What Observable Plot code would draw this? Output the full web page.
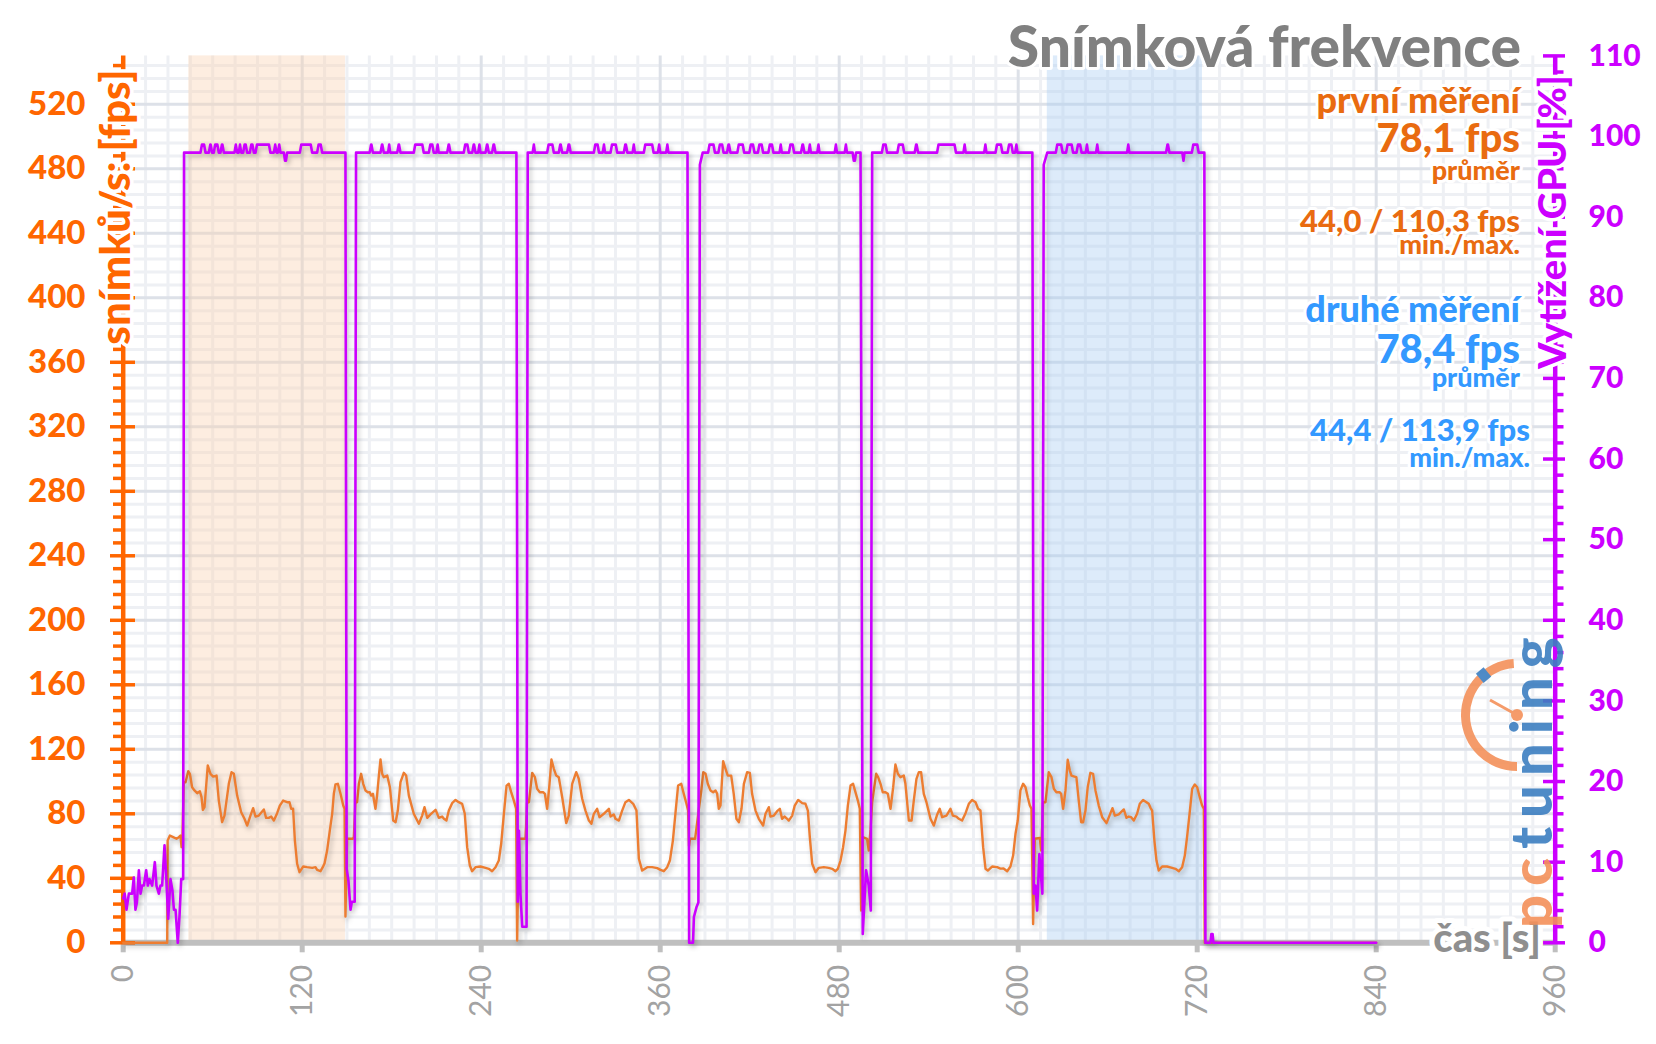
<!DOCTYPE html>
<html>
<head>
<meta charset="utf-8">
<script src="https://cdn.jsdelivr.net/npm/d3@7"></script>
<script src="https://cdn.jsdelivr.net/npm/@observablehq/plot@0.6"></script>
<style>
  html, body { margin: 0; padding: 0; background: #ffffff; overflow: hidden; }
  #chart svg { display: block; }
</style>
</head>
<body>
<div id="chart"></div>
<script>
// ---------------- DATA ----------------
// axis ticks
const xMajorTicks = [0, 120, 240, 360, 480, 600, 720, 840, 960];
const xMinorGrid = [15, 30, 45, 60, 75, 90, 105, 135, 150, 165, 180, 195, 210, 225, 255, 270, 285, 300, 315, 330, 345, 375, 390, 405, 420, 435, 450, 465, 495, 510, 525, 540, 555, 570, 585, 615, 630, 645, 660, 675, 690, 705, 735, 750, 765, 780, 795, 810, 825, 855, 870, 885, 900, 915, 930, 945];
const fpsMajorTicks = [0, 40, 80, 120, 160, 200, 240, 280, 320, 360, 400, 440, 480, 520];
const fpsMinorTicks = [8, 16, 24, 32, 48, 56, 64, 72, 88, 96, 104, 112, 128, 136, 144, 152, 168, 176, 184, 192, 208, 216, 224, 232, 248, 256, 264, 272, 288, 296, 304, 312, 328, 336, 344, 352, 368, 376, 384, 392, 408, 416, 424, 432, 448, 456, 464, 472, 488, 496, 504, 512, 528, 536, 544];
const gpuMajorTicks = [0, 10, 20, 30, 40, 50, 60, 70, 80, 90, 100, 110];
const gpuMinorTicks = [2, 4, 6, 8, 12, 14, 16, 18, 22, 24, 26, 28, 32, 34, 36, 38, 42, 44, 46, 48, 52, 54, 56, 58, 62, 64, 66, 68, 72, 74, 76, 78, 82, 84, 86, 88, 92, 94, 96, 98, 102, 104, 106, 108];

// highlighted measurement windows [start s, end s]
const bandStarts = [44, 619.5];
const bandEnds = [149, 723.5];
const bandColors = ["#fad2b2", "#aacdf2"];

// texts
const titleText = "Snímková frekvence";
const runNames = ["první měření", "druhé měření"];
const avgTexts = ["78,1 fps", "78,4 fps"];
const avgNote = "průměr";
const minMaxTexts = ["44,0 / 110,3 fps", "44,4 / 113,9 fps"];
const minMaxNote = "min./max.";
const yLeftLabel = "snímků/s: [fps]";
const yRightLabel = "Vytížení GPU [%]";
const xLabel = "čas [s]";

// frame rate [time s, fps]
const fpsWarmup = [[0,0],[29.5,0],[29.8,63.4],[31.3,66.5],[33.5,65.5],[35.7,64.5],[37.3,65.5],[38.4,66.5],[39.1,59.3],[39.7,65],[40.6,99.6]];
const fpsRun1 = [[41.8,99.6],[43.6,106.4],[44.7,104.8],[46.2,96.5],[47.8,94.5],[49.6,92.8],[51.4,94],[52.5,90.3],[53.4,82.4],[54.5,84.1],[56.7,110],[58.5,104.8],[60.3,103.1],[62.6,103.7],[64.1,88.2],[66.3,74.8],[67.9,78.9],[70.8,98.6],[72.6,105.8],[74.2,104.8],[76.4,91.3],[79.1,81],[81.3,76.9],[83.1,72.7],[85.3,78.9],[87.1,83.5],[88.7,78.3],[90.9,78.9],[94.3,82.7],[95.8,77.5],[97.6,77.5],[99.2,78.3],[101,75.8],[103.2,80.4],[105,85.1],[107.2,88.2],[109.9,87.2],[111.5,87.2],[112.6,83.1],[113.9,83.1],[115.1,63.4],[116.6,49],[118.2,43.8],[120.6,47.3],[123.3,46.9],[126.7,46.5],[128.9,46.9],[130,45.2],[132.3,44.4],[133.8,46.9],[135,49.4],[136.7,57.2],[138.5,69.6],[140.1,80],[141.2,92.4],[142.3,98.2],[143.9,98.6],[145.7,92.4],[147.5,85.1],[148.4,83.1],[149,16.3],[150.1,64.5],[154,64.5],[154.6,65.5],[155.7,87.2]];
const fpsRun2 = [[156.8,87.2],[158,98.6],[159.5,104.8],[160.9,98.6],[162.4,94.5],[164,93.4],[165.3,93.4],[166.2,91.3],[167.4,92.4],[169.1,83.1],[170.2,91.3],[171.4,103.7],[172.5,113.7],[173.6,104.8],[174.7,102.7],[177,103.7],[178.8,96.5],[181,75.8],[182.6,74.8],[184.1,82],[185.9,99.6],[188.1,105.4],[189.7,103.7],[191.5,91.3],[194.8,80],[198.2,73.8],[200.4,78.9],[202,84.1],[203.8,77.5],[206,79.6],[209.4,82.5],[211.6,77.5],[213.8,78.3],[215,76.9],[216.7,75.8],[218.3,82],[220.5,86.6],[222.8,88.6],[225,87.2],[227.2,86.2],[229,80],[230.6,59.3],[232.4,47.9],[233.9,44.4],[236.2,46.9],[239.5,47.3],[242.9,46.5],[245.1,45.9],[247.3,44.4],[249.6,46.9],[251.8,51],[253.4,61.4],[255.2,80],[257,97.5],[258.5,98.6],[260.1,93.4],[261.9,88.2],[263.4,83.1],[264.1,1.4],[265.2,64.5],[269.7,64.5],[270.8,87.2]];
const fpsRun3 = [[272,87.2],[274.2,105.4],[276,102.7],[277.5,95.5],[279.3,93.4],[281.5,93.4],[282.7,92.4],[284.2,83.1],[285.8,98.6],[287.1,113.7],[288.7,107.9],[290.3,103.7],[292,102.7],[294.3,90.3],[297,74.2],[298.7,78.9],[301,98.6],[303.7,105.8],[305.4,101.7],[307.7,89.3],[309.9,82],[312.2,75.8],[313.9,73.8],[315.5,80],[317.7,83.1],[319.3,77.9],[322.2,80],[325.6,83.1],[326.7,78.3],[328.9,79.6],[330,76.9],[332.3,75.8],[334.5,82],[336.7,87.2],[339,88.6],[341.9,86.2],[344.1,82],[345.7,52.1],[347.9,44.8],[351.3,46.9],[354.6,46.9],[358,46.3],[360.2,45.2],[362.4,44.4],[364.7,46.9],[366.5,51],[368.5,63.4],[370.3,81],[372,97.5],[374.1,98.6],[375.8,92.4],[377.6,86.2],[378.7,82],[379.3,60],[380,64.5],[383.4,64.5]];
const fpsRun4 = [[385.5,80],[387.5,94],[388.9,105.8],[390.4,104.8],[391.9,98.6],[393.7,94.5],[395.5,93.4],[397.1,94.5],[398.2,92.4],[399.3,83.1],[400.4,85.1],[402.2,112.6],[403.8,107.9],[405.3,103.7],[407.6,103.7],[409.3,92.4],[411.1,76.9],[412.7,74.8],[414.5,83.1],[416.1,98.6],[418.3,105.8],[420.1,105.4],[421.6,92.4],[423.9,82],[426.1,76.9],[429,72.7],[430.6,80],[432.8,84.1],[433.9,78.3],[436.2,78.9],[438.4,81.6],[440.2,83.1],[441.7,76.9],[443.3,78.3],[445.1,76.9],[446.2,75.8],[448.5,78.9],[450.2,85.1],[452.5,88.6],[455.2,86.6],[457.4,86.2],[459,82],[460.3,65.5],[461.9,49],[464.1,43.8],[466.3,46.5],[469.7,46.9],[473,46.5],[475.3,45.9],[477.5,44.4],[479.1,45.9],[480.9,51],[482.6,59.3],[484.2,69.6],[485.8,85.1],[487.6,97.5],[489.3,98.6],[490.9,93.4],[492.5,88.2],[493.8,83.1],[494.7,20],[495.8,65.5],[498.7,64.5],[499.8,57.2],[501,70],[502.1,87.2]];
const fpsRun5 = [[503.2,94.5],[504.8,104.8],[506.1,102.7],[507.7,98.6],[509.2,93.4],[511,93.4],[512.6,92.4],[514.4,83.1],[516.2,96.5],[517.7,110.6],[519.3,104.8],[521.1,102.7],[523.3,103.7],[524.4,98.6],[526.7,75.8],[528.5,75.8],[530,88.2],[531.8,101.7],[533.4,105.8],[534.9,105.8],[536.7,92.4],[538.5,87.2],[541.2,76.9],[543.4,72.7],[545.7,79.6],[547.4,83.1],[549,77.9],[551.9,78.9],[554.6,83.1],[556.2,78.9],[558.6,78.3],[560.2,76.9],[562.4,75.8],[564.7,80.4],[566.9,86.2],[569.1,88.6],[571.4,87.2],[573.1,83.1],[574.7,82],[576.5,59.3],[578.1,45.9],[579.6,44.8],[582.5,47.3],[585.9,46.9],[588.1,46],[590.2,46.1],[592.6,44.4],[594.8,47.3],[596.6,54.1],[598.2,67.6],[599.7,75.8],[601.5,94.5],[603.3,98.6],[604.9,96.5],[606.4,90.3],[607.8,85.1],[608.9,83.1],[610,11.7],[611.1,64.5],[614.5,65],[615.4,57.2],[616.7,87.2]];
const fpsRun6 = [[618.3,87.2],[620.5,105.8],[622.3,102.7],[623.9,95.5],[625.6,93.4],[627.7,93.4],[628.8,92.4],[630.1,83.1],[631.7,94.5],[633.2,113.5],[634.6,106.8],[635.7,103.7],[637.7,103.1],[639,102.7],[640.6,88.2],[642.2,74.8],[643.5,74.8],[645.1,82],[646.6,96.5],[648.4,105.4],[650.2,104.8],[651.8,94.5],[654,85.1],[656.3,77.9],[659.2,74.2],[661.2,78.9],[663.2,83.5],[664.8,78.9],[667.4,79.6],[670.8,82.7],[672.6,77.5],[674.1,78.3],[675.7,77.9],[677.5,75.8],[679.7,80],[681.5,86.2],[683.7,88.6],[686,87.2],[687.5,86.2],[688.7,83.7],[689.8,82],[691.3,63.4],[692.7,51],[694.2,44.8],[696.5,47.3],[699.8,47.3],[703.2,46.5],[705.4,45.9],[707.7,44.4],[709.9,46.9],[711.7,54.1],[713.2,65.5],[715,81],[716.6,95.5],[718.4,98.2],[720,96.5],[721.7,90.3],[723.3,85.1],[724.4,83.1],[725.1,0]];
const fpsIdle = [[840,0]];

// GPU load [time s, %]
const gpuWarmup = [[0,5.5],[1,6.1],[2.2,4.1],[3.8,6.1],[6,6.1],[7.1,8.1],[8.2,4.1],[9.2,5],[10.5,9],[11.6,6.1],[12.7,7.1],[13.9,7.1],[15.4,9],[16.5,7.1],[17.6,7.9],[19.4,7.1],[21.2,10],[22.3,7.1],[23.9,6.1],[25,7.1],[26.1,7.1],[27.7,12.1],[29,7.5],[30.2,3],[31.7,7.9],[33,6.5],[34,4.1],[35.1,4.1],[36.6,0],[37.8,3.5],[38.9,7.9],[40.2,7.9]];
const gpuRun1 = [[40.8,98],[51.8,98],[52.8,99],[54.2,99],[55.2,98],[57.4,98],[58.4,99],[58.6,99],[59.6,98],[60.7,98],[61.7,99],[63.1,99],[64.1,98],[65.2,98],[66.2,99],[66.5,99],[67.5,98],[74.6,98],[75.5,99],[76.4,98],[77.5,98],[78.3,99],[79.1,98],[80.4,98],[81.4,99],[82.1,99],[83.1,98],[84.9,98],[85.9,99],[86.6,99],[87.6,98],[88.7,98],[89.7,99],[97.7,99],[98.7,98],[101,98],[101.9,99],[102.8,98],[103.7,98],[104.6,99],[105.4,98],[107.7,98],[108.5,97],[109.1,97],[109.9,98],[118.4,98],[119.4,99],[125.7,99],[126.7,98],[130,98],[131,99],[132.4,99],[133.4,98],[149,98],[149.8,9.2],[151,7.7],[152.4,4.1],[153.3,5.1],[155.2,5.1],[156.1,98]];
const gpuRun2 = [[165.2,98],[166.2,99],[166.4,99],[167.4,98],[172.5,98],[173.5,99],[173.7,99],[174.7,98],[177.6,98],[178.3,99],[179,98],[183.7,98],[184.7,99],[184.9,99],[185.9,98],[194.8,98],[195.8,99],[200.5,99],[201.5,98],[204.9,98],[205.9,99],[207.2,99],[208.2,98],[210,98],[210.8,99],[211.5,98],[217.2,98],[218.2,99],[218.4,99],[219.4,98],[228.3,98],[229.3,99],[230.7,99],[231.7,98],[234,98],[235,99],[235.2,99],[236.2,98],[238,98],[238.8,99],[239.5,98],[242.9,98],[243.9,99],[244.1,99],[245.1,98],[247.3,98],[248.3,99],[248.6,99],[249.6,98],[263.6,98],[264.5,5.1],[265.3,13.9],[266.3,6.1],[267.5,2],[270.4,2],[271.2,98]];
const gpuRun3 = [[274.5,98],[275.3,99],[276,98],[284.2,98],[285.2,99],[287.7,99],[288.7,98],[292,98],[293,99],[293.3,99],[294.3,98],[297.6,98],[298.6,99],[299,99],[300,98],[315.5,98],[316.5,99],[318,99],[319,98],[321.5,98],[322.3,99],[323,98],[326.7,98],[327.7,99],[330.2,99],[331.2,98],[335.6,98],[336.6,99],[337,99],[338,98],[341.5,98],[342.3,99],[343,98],[349,98],[350,99],[354.6,99],[355.6,98],[358.5,98],[359.3,99],[360,98],[364,98],[364.8,99],[365.5,98],[378.3,98],[379.4,0],[382,0],[382.6,3.2],[384.3,4.4],[385.6,5],[386.6,96.5],[388.5,98]];
const gpuRun4 = [[392.1,98],[393.1,99],[395.7,99],[396.7,98],[399,98],[400,99],[401.5,99],[402.5,98],[404.8,98],[405.8,99],[406.1,99],[407.1,98],[411.7,98],[412.7,99],[415.3,99],[416.3,98],[419.8,98],[420.8,99],[422.2,99],[423.2,98],[425.5,98],[426.5,99],[428,99],[429,98],[432.5,98],[433.5,99],[434.9,99],[435.9,98],[440,98],[440.8,99],[441.5,98],[446.3,98],[447.3,99],[448.8,99],[449.8,98],[454.4,98],[455.4,99],[455.7,99],[456.7,98],[459.5,98],[460.3,99],[461,98],[465.3,98],[466.1,99],[466.8,98],[477,98],[477.8,99],[478.5,98],[483.7,98],[484.5,99],[485.2,98],[489,98],[489.8,97],[490.5,97],[491.3,98],[494.3,98],[495.8,1.1],[498,9],[499.8,7.1],[501.2,4],[502.1,98]];
const gpuRun5 = [[508.6,98],[509.6,99],[511.1,99],[512.1,98],[519,98],[520,99],[522.6,99],[523.6,98],[530.6,98],[531.6,99],[531.9,99],[532.9,98],[545.6,98],[546.6,99],[557.3,99],[558.3,98],[563.3,98],[564.1,99],[564.8,98],[577.2,98],[578,99],[578.7,98],[584.8,98],[585.8,99],[588.4,99],[589.4,98],[592.9,98],[593.9,99],[595.4,99],[596.4,98],[598,98],[598.8,99],[599.5,98],[609.5,98],[610.4,6.1],[611.6,7.1],[612.7,4],[614.2,11],[615.4,8],[616.2,6.1],[617.1,96.5],[619.5,98]];
const gpuRun6 = [[625.2,98],[626.2,99],[628.8,99],[629.8,98],[632.1,98],[633.1,99],[635.8,99],[636.8,98],[639.1,98],[640.1,99],[641.5,99],[642.5,98],[645.3,98],[646.1,99],[646.8,98],[652.2,98],[653,99],[653.7,98],[673,98],[673.8,99],[674.5,98],[699.1,98],[700.1,99],[700.4,99],[701.4,98],[710,98],[710.8,97],[711.5,98],[716.4,98],[717.4,99],[720,99],[721,98],[724.8,98],[725.5,0]];
const gpuIdle = [[728.9,0],[729.5,1.1],[730.3,1.1],[730.9,0],[840,0]];

// ---------------- BUILD ----------------
const toRows = arr => arr.map(([t, v]) => ({t, v}));
const fpsData = toRows([...fpsWarmup, ...fpsRun1, ...fpsRun2, ...fpsRun3, ...fpsRun4, ...fpsRun5, ...fpsRun6, ...fpsIdle]);
const gpuData = toRows([...gpuWarmup, ...gpuRun1, ...gpuRun2, ...gpuRun3, ...gpuRun4, ...gpuRun5, ...gpuRun6, ...gpuIdle]);
const bands = bandStarts.map((s, i) => ({start: s, end: bandEnds[i], color: bandColors[i]}));

const W = 1656, H = 1044;
const mL = 122.7, mR = 101.3, mT = 55.4, mB = 101.7;
const frameW = W - mL - mR, frameH = H - mT - mB;
const GPU_TO_FPS = 5; // right axis 0–110 % maps onto left axis 0–550 fps

const ORANGE_AXIS = "#ff6600";
const MAGENTA = "#cc00ff";
const FPS_LINE = "#ed7d31";
const GRID_MAJOR = "#dde1e8";
const GRID_MINOR = "#eef0f4";

const chart = Plot.plot({
  width: W, height: H,
  marginLeft: mL, marginRight: mR, marginTop: mT, marginBottom: mB,
  x: {domain: [0, 960]},
  y: {domain: [0, 550]},
  style: {fontFamily: "Lato, 'Open Sans', sans-serif", background: "#ffffff", overflow: "visible"},
  marks: [
    Plot.ruleX(xMinorGrid, {stroke: GRID_MINOR, strokeWidth: 3}),
    Plot.ruleY(fpsMinorTicks, {stroke: GRID_MINOR, strokeWidth: 3}),
    Plot.ruleX(xMajorTicks.filter(d => d > 0 && d < 960), {stroke: GRID_MAJOR, strokeWidth: 3}),
    Plot.ruleY(fpsMajorTicks.filter(d => d > 0), {stroke: GRID_MAJOR, strokeWidth: 3}),
    Plot.rect(bands, {x1: "start", x2: "end", y1: 0, y2: 550, fill: "color", fillOpacity: 0.4}),
    // x axis
    Plot.ruleY([0], {stroke: "#bfbfbf", strokeWidth: 6}),
    Plot.tickX(xMajorTicks, {x: d => d, stroke: "#bfbfbf", strokeWidth: 5, insetTop: frameH, insetBottom: -10}),
    Plot.axisX({ticks: xMajorTicks, tickSize: 0, tickPadding: 22, tickRotate: -90, fontSize: 30, fill: "#a3a3a3", label: null}),
    // left axis
    Plot.ruleX([0], {stroke: ORANGE_AXIS, strokeWidth: 4.5}),
    Plot.tickY(fpsMinorTicks, {y: d => d, stroke: ORANGE_AXIS, strokeWidth: 3.5, insetLeft: -9.7, insetRight: frameW}),
    Plot.tickY(fpsMajorTicks, {y: d => d, stroke: ORANGE_AXIS, strokeWidth: 3.5, insetLeft: -12.7, insetRight: frameW - 12.3}),
    Plot.axisY({anchor: "left", ticks: fpsMajorTicks, tickSize: 0, tickPadding: 37.7, fontSize: 33, fontWeight: "900", fill: ORANGE_AXIS, label: null}),
    // right axis
    Plot.ruleX([960], {stroke: MAGENTA, strokeWidth: 4.5}),
    Plot.tickY(gpuMinorTicks, {y: d => d * GPU_TO_FPS, stroke: MAGENTA, strokeWidth: 3.5, insetLeft: frameW, insetRight: -8.8}),
    Plot.tickY(gpuMajorTicks, {y: d => d * GPU_TO_FPS, stroke: MAGENTA, strokeWidth: 3.5, insetLeft: frameW - 11.7, insetRight: -10.3}),
    Plot.axisY({anchor: "right", ticks: gpuMajorTicks.map(d => d * GPU_TO_FPS), tickFormat: d => d / GPU_TO_FPS, tickSize: 0, tickPadding: 33.3, textAnchor: "start", fontSize: 30, fontWeight: "900", fill: MAGENTA, label: null}),
    // series
    Plot.line(fpsData, {x: "t", y: "v", stroke: FPS_LINE, strokeWidth: 2.4}),
    Plot.line(gpuData, {x: "t", y: d => d.v * GPU_TO_FPS, stroke: MAGENTA, strokeWidth: 2.6})
  ]
});

document.getElementById("chart").appendChild(chart);

// soft shadows like the original
const svg = d3.select(chart);
svg.selectAll('g[aria-label="line"]').style("filter", "drop-shadow(2px 3px 2.5px rgba(0,0,0,0.25))");

// ---------------- TEXT OVERLAY ----------------
const g = svg.append("g")
  .attr("font-family", "Lato, 'Open Sans', sans-serif")
  .attr("font-weight", "900");

function addText(x, y, text, size, color, opts = {}) {
  const t = g.append("text")
    .attr("x", x).attr("y", y)
    .attr("text-anchor", opts.anchor || "end")
    .attr("font-size", size)
    .attr("fill", color)
    .attr("stroke", "#ffffff")
    .attr("stroke-width", opts.halo == null ? 6 : opts.halo)
    .attr("stroke-linejoin", "round")
    .attr("paint-order", "stroke")
    .text(text);
  if (opts.transform) t.attr("transform", opts.transform).attr("x", 0).attr("y", 0);
  return t;
}

const ORANGE_TXT = "#e96b10";
const BLUE_TXT = "#3399ff";

addText(1521, 67, titleText, 57, "#808080");
addText(1520, 113, runNames[0], 36, ORANGE_TXT);
addText(1520, 152, avgTexts[0], 40, ORANGE_TXT);
addText(1520, 180, avgNote, 27, ORANGE_TXT);
addText(1520, 232, minMaxTexts[0], 31, ORANGE_TXT);
addText(1520, 254, minMaxNote, 27, ORANGE_TXT);

addText(1520, 322, runNames[1], 36, BLUE_TXT);
addText(1520, 363, avgTexts[1], 40, BLUE_TXT);
addText(1520, 387, avgNote, 27, BLUE_TXT);
addText(1530, 441, minMaxTexts[1], 31, BLUE_TXT);
addText(1530, 467, minMaxNote, 27, BLUE_TXT);

// axis titles
addText(0, 0, yLeftLabel, 42, ORANGE_AXIS, {anchor: "middle", transform: "translate(130,207) rotate(-90)", halo: 7});
addText(0, 0, yRightLabel, 38, MAGENTA, {anchor: "middle", transform: "translate(1566,222) rotate(-90)", halo: 7});
addText(1541, 952, xLabel, 40, "#8f8f8f", {halo: 10});

// pctuning logo (decoration)
const logo = g.append("g").attr("opacity", 0.9);
logo.append("path")
  .attr("d", d3.arc()({innerRadius: 47, outerRadius: 56, startAngle: -Math.PI * 0.02, endAngle: -Math.PI * 1.0}))
  .attr("transform", "translate(1517,715)")
  .attr("fill", "#f4915a");
logo.append("rect").attr("x", -5).attr("y", -58).attr("width", 10).attr("height", 12)
  .attr("transform", "translate(1517,715) rotate(-40)").attr("fill", "#3d7fc1");
logo.append("line").attr("x1", 1517).attr("y1", 715).attr("x2", 1490).attr("y2", 700)
  .attr("stroke", "#f4915a").attr("stroke-width", 3);
logo.append("circle").attr("cx", 1517).attr("cy", 715).attr("r", 6).attr("fill", "#f4915a");
const logoText = logo.append("text")
  .attr("transform", "translate(1552,928) rotate(-90)")
  .attr("text-anchor", "start")
  .attr("font-size", 58).attr("font-weight", "900")
  .attr("letter-spacing", 9);
logoText.append("tspan").attr("fill", "#f4915a").text("pc");
logoText.append("tspan").attr("fill", "#3d7fc1").text("tuning");
</script>
</body>
</html>
